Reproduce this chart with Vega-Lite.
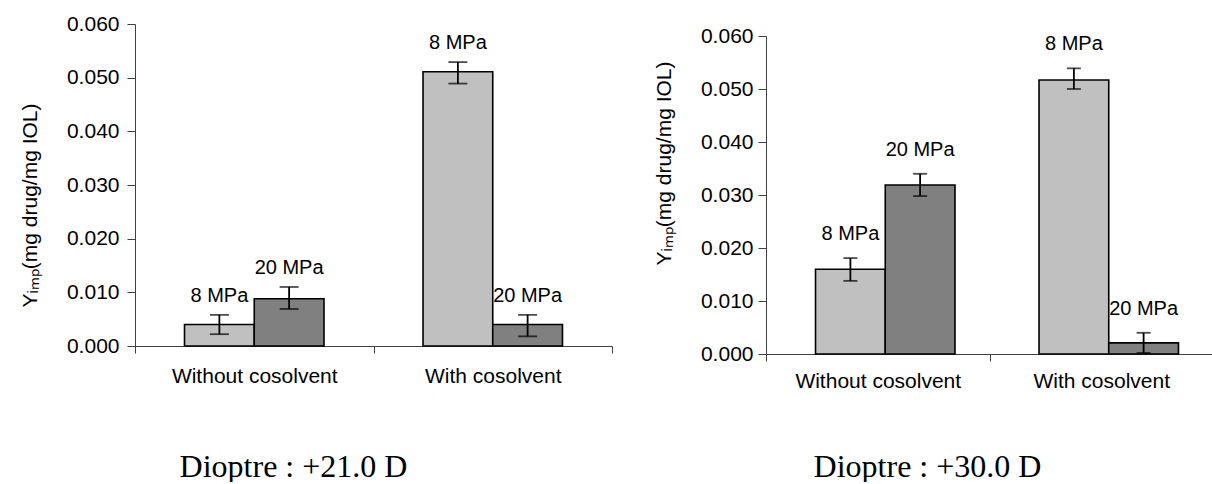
{
  "$schema": "https://vega.github.io/schema/vega-lite/v6.json",
  "background": "white",
  "padding": {"left": 19, "top": 13, "right": 0, "bottom": 0},
  "config": {
    "view": {"stroke": null},
    "font": "Liberation Sans",
    "axis": {"grid": false, "labelColor": "black", "titleColor": "black", "domainColor": "#404040", "tickColor": "#404040", "domainWidth": 1, "tickWidth": 1}
  },
  "data": {"values": [
    {"dioptre": "+21.0 D", "group": "Without cosolvent", "pressure": "8 MPa", "value": 0.0040, "lo": 0.0022, "hi": 0.0058},
    {"dioptre": "+21.0 D", "group": "Without cosolvent", "pressure": "20 MPa", "value": 0.0088, "lo": 0.0069, "hi": 0.0110},
    {"dioptre": "+21.0 D", "group": "With cosolvent", "pressure": "8 MPa", "value": 0.0511, "lo": 0.0489, "hi": 0.0529},
    {"dioptre": "+21.0 D", "group": "With cosolvent", "pressure": "20 MPa", "value": 0.0040, "lo": 0.0018, "hi": 0.0058},
    {"dioptre": "+30.0 D", "group": "Without cosolvent", "pressure": "8 MPa", "value": 0.0160, "lo": 0.0138, "hi": 0.0181},
    {"dioptre": "+30.0 D", "group": "Without cosolvent", "pressure": "20 MPa", "value": 0.0319, "lo": 0.0298, "hi": 0.0340},
    {"dioptre": "+30.0 D", "group": "With cosolvent", "pressure": "8 MPa", "value": 0.0517, "lo": 0.0500, "hi": 0.0539},
    {"dioptre": "+30.0 D", "group": "With cosolvent", "pressure": "20 MPa", "value": 0.0021, "lo": 0.0002, "hi": 0.0040}
  ]},
  "spacing": 40,
  "hconcat": [
    {
      "width": 477,
      "height": 322,
      "transform": [{"filter": "datum.dioptre == '+21.0 D'"}],
      "encoding": {
        "x": {"field": "group", "type": "nominal", "sort": ["Without cosolvent", "With cosolvent"],
          "scale": {"paddingInner": 0, "paddingOuter": 0},
          "axis": {"title": "Dioptre : +21.0 D", "titleFont": "Liberation Serif", "titleFontSize": 32, "titleFontWeight": "normal", "titleX": 158, "titleAlign": "center", "titlePadding": 65,
            "labelAngle": 0, "labelFontSize": 21, "labelPadding": 12, "tickBand": "extent", "tickSize": 7}},
        "xOffset": {"field": "pressure", "type": "nominal", "sort": ["8 MPa", "20 MPa"], "scale": {"paddingOuter": 0.71, "paddingInner": 0}}
      },
      "layer": [
        {
          "mark": {"type": "bar", "stroke": "black", "strokeWidth": 1.6},
          "encoding": {
            "y": {"field": "value", "type": "quantitative", "scale": {"domain": [0, 0.06]},
              "axis": {"title": "Yᵢₘₚ(mg drug/mg IOL)", "titleFontSize": 21, "titleFontWeight": "normal", "titlePadding": 26, "titleY": 181,
                "values": [0, 0.01, 0.02, 0.03, 0.04, 0.05, 0.06], "format": ".3f", "labelFontSize": 21, "labelPadding": 8, "tickSize": 8}},
            "color": {"field": "pressure", "type": "nominal", "scale": {"domain": ["8 MPa", "20 MPa"], "range": ["#c0c0c0", "#808080"]}, "legend": null}
          }
        },
        {
          "mark": {"type": "rule", "color": "black", "strokeWidth": 1.8},
          "encoding": {"y": {"field": "lo", "type": "quantitative"}, "y2": {"field": "hi"}}
        },
        {
          "mark": {"type": "tick", "color": "black", "thickness": 1.8, "size": 19},
          "encoding": {"y": {"field": "lo", "type": "quantitative"}}
        },
        {
          "mark": {"type": "tick", "color": "black", "thickness": 1.8, "size": 19},
          "encoding": {"y": {"field": "hi", "type": "quantitative"}}
        },
        {
          "mark": {"type": "text", "fontSize": 20, "baseline": "alphabetic", "dy": -13, "color": "black"},
          "encoding": {"y": {"field": "hi", "type": "quantitative"}, "text": {"field": "pressure"}}
        }
      ]
    },
    {
      "vconcat": [
        {
          "width": 10,
          "height": 1,
          "transform": [{"filter": "false"}],
          "mark": {"type": "text"},
          "encoding": {"text": {"value": ""}}
        },
        {
          "width": 447,
          "height": 318,
          "transform": [{"filter": "datum.dioptre == '+30.0 D'"}],
          "encoding": {
            "x": {"field": "group", "type": "nominal", "sort": ["Without cosolvent", "With cosolvent"],
              "scale": {"paddingInner": 0, "paddingOuter": 0},
              "axis": {"title": "Dioptre : +30.0 D", "titleFont": "Liberation Serif", "titleFontSize": 32, "titleFontWeight": "normal", "titleX": 161, "titleAlign": "center", "titlePadding": 60,
                "labelAngle": 0, "labelFontSize": 21, "labelPadding": 9, "tickBand": "extent", "tickSize": 7}},
            "xOffset": {"field": "pressure", "type": "nominal", "sort": ["8 MPa", "20 MPa"], "scale": {"paddingOuter": 0.71, "paddingInner": 0}}
          },
          "layer": [
            {
              "mark": {"type": "bar", "stroke": "black", "strokeWidth": 1.6},
              "encoding": {
                "y": {"field": "value", "type": "quantitative", "scale": {"domain": [0, 0.06]},
                  "axis": {"title": "Yᵢₘₚ(mg drug/mg IOL)", "titleFontSize": 21, "titleFontWeight": "normal", "titlePadding": 26, "titleY": 127,
                    "values": [0, 0.01, 0.02, 0.03, 0.04, 0.05, 0.06], "format": ".3f", "labelFontSize": 21, "labelPadding": 5, "tickSize": 8}},
                "color": {"field": "pressure", "type": "nominal", "scale": {"domain": ["8 MPa", "20 MPa"], "range": ["#c0c0c0", "#808080"]}, "legend": null}
              }
            },
            {
              "mark": {"type": "rule", "color": "black", "strokeWidth": 1.8},
              "encoding": {"y": {"field": "lo", "type": "quantitative"}, "y2": {"field": "hi"}}
            },
            {
              "mark": {"type": "tick", "color": "black", "thickness": 1.8, "size": 14},
              "encoding": {"y": {"field": "lo", "type": "quantitative"}}
            },
            {
              "mark": {"type": "tick", "color": "black", "thickness": 1.8, "size": 14},
              "encoding": {"y": {"field": "hi", "type": "quantitative"}}
            },
            {
              "mark": {"type": "text", "fontSize": 20, "baseline": "alphabetic", "dy": -18, "color": "black"},
              "encoding": {"y": {"field": "hi", "type": "quantitative"}, "text": {"field": "pressure"}}
            }
          ]
        }
      ],
      "spacing": 0
    }
  ]
}
